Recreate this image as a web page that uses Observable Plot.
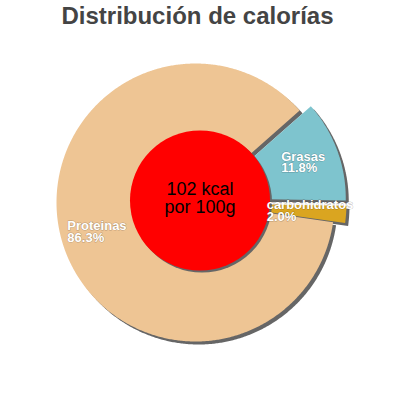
<!DOCTYPE html>
<html><head><meta charset="utf-8">
<script src="https://cdn.jsdelivr.net/npm/d3@7"></script>
<script src="https://cdn.jsdelivr.net/npm/@observablehq/plot@0.6"></script>
<style>
body{margin:0;background:#fff;font-family:"Liberation Sans",Arial,sans-serif;}
#title{width:400px;height:40px;box-sizing:border-box;padding-top:4px;padding-right:5px;text-align:center;font-size:24px;line-height:24px;font-weight:bold;color:#444;}
</style></head><body>
<div id="title">Distribución de calorías</div>
<div id="chart"></div>
<script>
// ---- data ----
const categories = ["Grasas", "carbohidratos", "Proteinas"];
const values = [11.8, 2.0, 86.3];
const colors = ["#7ec4ce", "#daa520", "#eec594"];
const exploded = [true, true, false];
const energyLines = ["102 kcal", "por 100g"];

// ---- layout ----
const W = 400, H = 360;
const R = 139;             // pie radius (px)
const CX = 195, CY = 162;  // pie centre in svg (px)
const startDeg = 48.5;
const explodePx = 12;
const shadowPx = 3;
const labelR = 0.74;
const labelFont = 13;
const redCX = 199.5, redCY = 160, redR = 70;

const toRad = d => d * Math.PI / 180;
const pie = d3.pie().sort(null).value(d => d.value)
  .startAngle(toRad(startDeg)).endAngle(toRad(startDeg) + 2 * Math.PI);
const arcs = pie(categories.map((name, i) => ({name, value: values[i], exploded: exploded[i]})));

const ctx = document.createElement("canvas").getContext("2d");
ctx.font = `bold ${labelFont}px "Liberation Sans", Arial, sans-serif`;

const slices = [], shadows = [], labels = [];
arcs.forEach(a => {
  const mid = (a.startAngle + a.endAngle) / 2;
  const off = a.data.exploded ? explodePx / R : 0;
  const ox = off * Math.sin(mid), oy = off * Math.cos(mid);
  const n = Math.max(2, Math.ceil((a.endAngle - a.startAngle) / (Math.PI / 360)));
  const pts = [[ox, oy]];
  for (let k = 0; k <= n; k++) {
    const t = a.startAngle + (a.endAngle - a.startAngle) * k / n;
    pts.push([ox + Math.sin(t), oy + Math.cos(t)]);
  }
  pts.forEach(([x, y]) => {
    slices.push({name: a.data.name, x, y});
    shadows.push({name: a.data.name, x: x + shadowPx / R, y: y - shadowPx / R});
  });
  const lines = [a.data.name, a.data.value.toFixed(1) + "%"];
  const w = d3.max(lines, s => ctx.measureText(s).width);
  labels.push({
    text: lines.join("\n"),
    x: ox + labelR * Math.sin(mid) - (w / 2) / R,
    y: oy + labelR * Math.cos(mid)
  });
});

const red = [{x: (redCX - CX) / R, y: (CY - redCY) / R, text: energyLines.join("\n")}];

const chart = Plot.plot({
  width: W, height: H, margin: 0,
  x: {domain: [-CX / R, (W - CX) / R], axis: null},
  y: {domain: [-(H - CY) / R, CY / R], axis: null},
  color: {domain: categories, range: colors},
  style: {fontFamily: '"Liberation Sans", Arial, sans-serif', background: "white"},
  marks: [
    Plot.line(shadows, {x: "x", y: "y", z: "name", fill: "#666", stroke: "none", curve: "linear-closed"}),
    Plot.line(slices, {x: "x", y: "y", z: "name", fill: "name", stroke: "none", curve: "linear-closed"}),
    Plot.dot(red, {x: "x", y: "y", r: redR, fill: "#666", stroke: "none", dx: 2, dy: 2}),
    Plot.dot(red, {x: "x", y: "y", r: redR, fill: "#ff0000", stroke: "none"}),
    Plot.text(labels, {x: "x", y: "y", text: "text", textAnchor: "start", lineAnchor: "middle",
      fill: "white", fontSize: labelFont, fontWeight: "bold", lineHeight: 0.92,
      stroke: "#000", strokeOpacity: 0.25, strokeWidth: 1}),
    Plot.text(red, {x: "x", y: "y", text: "text", fontSize: 18, lineHeight: 1, dy: -2,
      fill: "black", lineAnchor: "middle"})
  ]
});
document.getElementById("chart").appendChild(chart);
</script>
</body></html>
